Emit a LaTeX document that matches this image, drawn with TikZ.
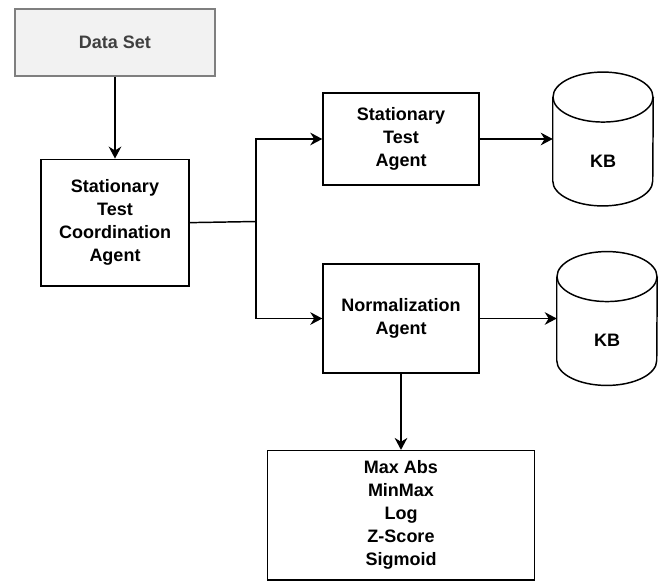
\documentclass[tikz,border=0pt]{standalone}
\usepackage{fontspec}
\setmainfont{Liberation Sans}
\usetikzlibrary{shapes.geometric, arrows.meta, positioning}
\definecolor{setfill}{HTML}{F2F2F2}
\definecolor{setdraw}{HTML}{7F7F7F}
\definecolor{settext}{HTML}{404040}
\tikzset{
    box/.style={rectangle, draw, line width=1.1pt, align=center, inner sep=0pt, font=\fontsize{13.5}{17.25}\selectfont\bfseries},
    databox/.style={box, fill=setfill, draw=setdraw, text=settext},
    store/.style={rectangle, inner sep=0pt, minimum width=75pt, minimum height=100pt, text height=42.6pt, text depth=0pt, font=\fontsize{13.5}{17.25}\selectfont\bfseries},
    arrow/.style={-{Stealth[length=9pt, width=9.5pt]}, line width=1.1pt},
    line/.style={line width=1.1pt}
}
% drum outline round a store node
\newcommand{\drawdrum}[1]{%
    \draw[line] ([yshift=-18.75pt]#1.north) ellipse [x radius=37.5pt, y radius=18.75pt];
    \draw[line] ([yshift=-18.75pt]#1.north west) -- ([yshift=18.75pt]#1.south west)
        arc[start angle=180, end angle=360, x radius=37.5pt, y radius=18.75pt]
        -- ([yshift=-18.75pt]#1.north east);
}
\begin{document}
\begin{tikzpicture}[x=0.75pt, y=-0.75pt]
    \useasboundingbox (0,0) rectangle (661,582);
    % Data set (top left)
    \node[databox, minimum width=150pt, minimum height=50pt] (dataset) at (115,42.5) {Data Set};

    % Coordination agent
    \node[box, minimum width=111pt, minimum height=95pt, below=61.5pt of dataset] (coord) {Stationary\\Test\\Coordination\\Agent};

    % Agents
    \node[box, minimum width=117pt, minimum height=69pt] (sta) at (401,139) {Stationary\\Test\\Agent};
    \node[box, minimum width=117pt, minimum height=82pt] (norm) at (401,318.5) {Normalization\\Agent};

    % Knowledge bases
    \node[store, right=54.75pt of sta] (kb1) {KB};
    \node[store, right=57.75pt of norm] (kb2) {KB};
    \drawdrum{kb1}
    \drawdrum{kb2}

    % Normalization methods
    \node[box, minimum width=200pt, minimum height=97pt, below=57pt of norm] (methods) {Max Abs\\MinMax\\Log\\Z-Score\\Sigmoid};

    % Split point
    \coordinate (split) at (256,221.5);

    % Lines
    \draw[arrow] (dataset) -- (coord);
    \draw[line] (coord.east) -- (split);
    \draw[arrow] (split) |- (sta.west);
    \draw[arrow] (split) |- (norm.west);
    \draw[arrow] (sta) -- (kb1);
    \draw[arrow] (norm) -- (kb2);
    \draw[arrow] (norm) -- (methods);
\end{tikzpicture}
\end{document}
